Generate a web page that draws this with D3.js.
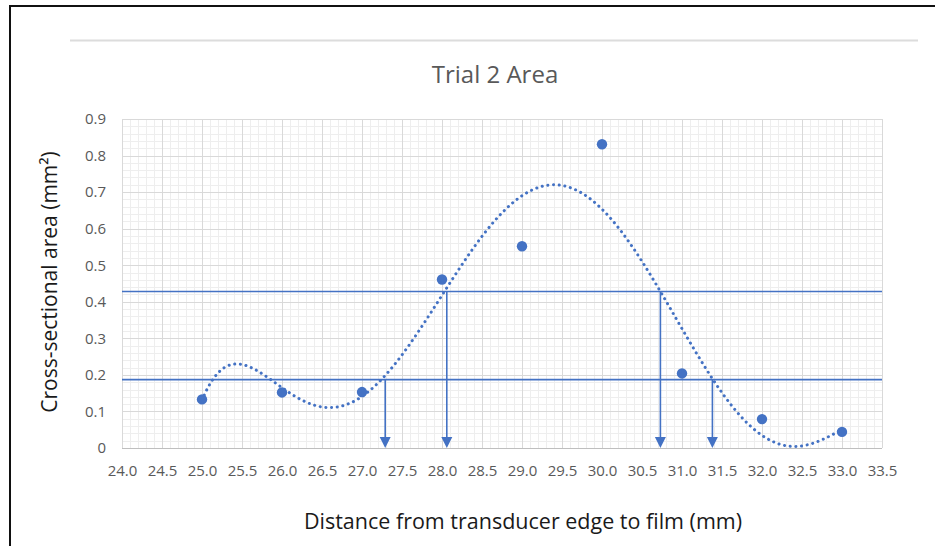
<!DOCTYPE html>
<html>
<head>
<meta charset="utf-8">
<script src="https://cdn.jsdelivr.net/npm/d3@7"></script>
<style>
  html, body { margin: 0; padding: 0; background: #fff; }
  svg { display: block; }
</style>
</head>
<body>
<svg id="chart" width="935" height="546"></svg>
<script>
// Measured cross-sectional area at each transducer-to-film distance
const distances = [25.0, 26.0, 27.0, 28.0, 29.0, 30.0, 31.0, 32.0, 33.0];
const areas = [0.133, 0.152, 0.153, 0.461, 0.552, 0.831, 0.204, 0.079, 0.044];

// Reference levels and the distances where the trend crosses them
const levels = [0.428, 0.187];
const crossings = [
  { x: 27.29, level: 0.187 },
  { x: 28.06, level: 0.428 },
  { x: 30.73, level: 0.428 },
  { x: 31.38, level: 0.187 }
];

// Axis tick values
const xTicks = [24.0, 24.5, 25.0, 25.5, 26.0, 26.5, 27.0, 27.5, 28.0, 28.5, 29.0,
                29.5, 30.0, 30.5, 31.0, 31.5, 32.0, 32.5, 33.0, 33.5];
const yTicks = [0, 0.1, 0.2, 0.3, 0.4, 0.5, 0.6, 0.7, 0.8, 0.9];

const chartTitle = "Trial 2 Area";
const xTitle = "Distance from transducer edge to film (mm)";
const yTitle = "Cross-sectional area (mm²)";
const trendOrder = 6;

const blue = "#4472c4";
const svg = d3.select("#chart");

const x = d3.scaleLinear().domain([24, 33.5]).range([122, 882]);
const y = d3.scaleLinear().domain([0, 0.9]).range([448, 119]);

// Frame
svg.append("line").attr("x1", 9).attr("x2", 935).attr("y1", 6).attr("y2", 6)
  .attr("stroke", "#111").attr("stroke-width", 2);
svg.append("line").attr("x1", 10).attr("x2", 10).attr("y1", 5).attr("y2", 546)
  .attr("stroke", "#111").attr("stroke-width", 2);
svg.append("line").attr("x1", 70).attr("x2", 918).attr("y1", 40.5).attr("y2", 40.5)
  .attr("stroke", "#dcdcdc").attr("stroke-width", 2);

// Title
svg.append("text").attr("x", 495).attr("y", 83)
  .attr("text-anchor", "middle")
  .attr("font-family", "'Open Sans', sans-serif").attr("font-size", 24)
  .attr("fill", "#595959").text(chartTitle);

// Grid: minor lines every 0.1 mm / 0.02 mm², major at the ticks
const grid = svg.append("g");
const minorX = d3.range(240, 336).map(d => d / 10).filter(d => Math.abs(d * 2 - Math.round(d * 2)) > 1e-6);
const minorY = d3.range(0, 46).map(d => d / 50).filter(d => Math.abs(d * 10 - Math.round(d * 10)) > 1e-6);
grid.selectAll(".mx").data(minorX).join("line")
  .attr("x1", d => Math.round(x(d)) + 0.5).attr("x2", d => Math.round(x(d)) + 0.5)
  .attr("y1", y(0.9)).attr("y2", y(0))
  .attr("stroke", "#eeeeee").attr("stroke-width", 1);
grid.selectAll(".my").data(minorY).join("line")
  .attr("y1", d => Math.round(y(d)) + 0.5).attr("y2", d => Math.round(y(d)) + 0.5)
  .attr("x1", x(24)).attr("x2", x(33.5))
  .attr("stroke", "#eeeeee").attr("stroke-width", 1);
grid.selectAll(".Mx").data(xTicks).join("line")
  .attr("x1", d => Math.round(x(d)) + 0.5).attr("x2", d => Math.round(x(d)) + 0.5)
  .attr("y1", y(0.9)).attr("y2", y(0))
  .attr("stroke", "#d9d9d9").attr("stroke-width", 1);
grid.selectAll(".My").data(yTicks).join("line")
  .attr("y1", d => Math.round(y(d)) + 0.5).attr("y2", d => Math.round(y(d)) + 0.5)
  .attr("x1", x(24)).attr("x2", x(33.5))
  .attr("stroke", "#d9d9d9").attr("stroke-width", 1);

// Axes (labels only; the grid provides the lines)
const xAxis = svg.append("g").attr("transform", `translate(0,${y(0)})`)
  .call(d3.axisBottom(x).tickValues(xTicks).tickFormat(d3.format(".1f")).tickSize(0).tickPadding(17));
const yAxis = svg.append("g").attr("transform", `translate(${x(24)},0)`)
  .call(d3.axisLeft(y).tickValues(yTicks).tickFormat(d => d === 0 ? "0" : d3.format(".1f")(d)).tickSize(0).tickPadding(16));
[xAxis, yAxis].forEach(a => {
  a.select(".domain").remove();
  a.selectAll("text").attr("font-family", "'Open Sans', sans-serif")
    .attr("font-size", 15).attr("fill", "#595959");
});
svg.append("line").attr("x1", x(24)).attr("x2", x(33.5))
  .attr("y1", Math.round(y(0)) + 0.5).attr("y2", Math.round(y(0)) + 0.5)
  .attr("stroke", "#bfbfbf").attr("stroke-width", 1);

// Axis titles
svg.append("text").attr("x", 523).attr("y", 529)
  .attr("text-anchor", "middle")
  .attr("font-family", "'Open Sans', sans-serif").attr("font-size", 21.5)
  .attr("fill", "#1a1a1a").text(xTitle);
svg.append("text").attr("transform", "translate(57,282) rotate(-90)")
  .attr("text-anchor", "middle")
  .attr("font-family", "'Open Sans', sans-serif").attr("font-size", 21)
  .attr("fill", "#1a1a1a").text(yTitle);

// Least-squares polynomial trend through the measurements
function polyFit(xs, ys, order) {
  const cx = d3.mean(xs), sx = 4;
  const n = order + 1;
  const A = Array.from({ length: n }, () => new Array(n + 1).fill(0));
  xs.forEach((xv, i) => {
    const t = (xv - cx) / sx;
    const pw = d3.range(2 * n).map(k => Math.pow(t, k));
    for (let r = 0; r < n; r++) {
      for (let c = 0; c < n; c++) A[r][c] += pw[r + c];
      A[r][n] += pw[r] * ys[i];
    }
  });
  for (let col = 0; col < n; col++) {
    let piv = col;
    for (let r = col + 1; r < n; r++) if (Math.abs(A[r][col]) > Math.abs(A[piv][col])) piv = r;
    [A[col], A[piv]] = [A[piv], A[col]];
    for (let r = 0; r < n; r++) {
      if (r === col) continue;
      const f = A[r][col] / A[col][col];
      for (let c = col; c <= n; c++) A[r][c] -= f * A[col][c];
    }
  }
  const coef = A.map((row, i) => row[n] / row[i]);
  return xv => {
    const t = (xv - cx) / sx;
    return coef.reduce((s, c, k) => s + c * Math.pow(t, k), 0);
  };
}
const trend = polyFit(distances, areas, trendOrder);
const trendPts = d3.range(0, 401).map(i => {
  const xv = distances[0] + (distances[distances.length - 1] - distances[0]) * i / 400;
  return [xv, trend(xv)];
});
svg.append("path").datum(trendPts)
  .attr("d", d3.line().x(d => x(d[0])).y(d => y(d[1])).curve(d3.curveLinear))
  .attr("fill", "none").attr("stroke", blue).attr("stroke-width", 3)
  .attr("stroke-linecap", "round").attr("stroke-dasharray", "0.1 5.6");

// Reference levels
svg.selectAll(".level").data(levels).join("line")
  .attr("x1", x(24)).attr("x2", x(33.5))
  .attr("y1", d => y(d)).attr("y2", d => y(d))
  .attr("stroke", blue).attr("stroke-width", 1.6);

// Drop arrows from each crossing to the distance axis
const arrows = svg.append("g");
arrows.selectAll("line").data(crossings).join("line")
  .attr("x1", d => x(d.x)).attr("x2", d => x(d.x))
  .attr("y1", d => y(d.level)).attr("y2", y(0) - 8)
  .attr("stroke", blue).attr("stroke-width", 1.6);
arrows.selectAll("path").data(crossings).join("path")
  .attr("d", d => {
    const px = x(d.x), py = y(0);
    return `M${px - 5.5},${py - 11}L${px + 5.5},${py - 11}L${px},${py}Z`;
  })
  .attr("fill", blue);

// Measurements
svg.selectAll(".pt").data(distances).join("circle")
  .attr("cx", d => x(d)).attr("cy", (d, i) => y(areas[i]))
  .attr("r", 5.2).attr("fill", blue);
</script>
</body>
</html>
